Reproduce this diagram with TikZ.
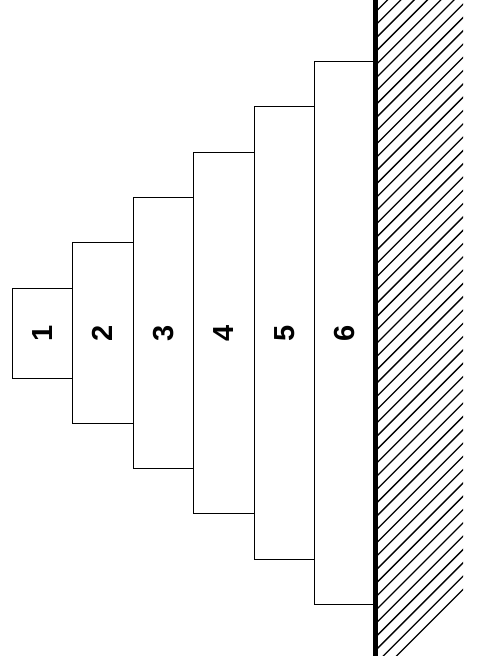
\documentclass[tikz,border=0pt]{standalone}
\usepackage{fontspec}
\setmainfont{Liberation Sans}
\tikzset{
  disk/.style={draw=black,line width=0.9pt,fill=white,rotate=90,inner sep=0pt,
    font=\fontsize{29}{34}\selectfont\bfseries},
  hatchline/.style={line width=1.3pt}
}
\begin{document}
\begin{tikzpicture}[x=1pt,y=1pt]
\useasboundingbox (0,0) rectangle (480,663);
% stacked disks, 1 on top of 6
\foreach \i in {1,...,6}
  \node [disk,minimum height=60.5pt,minimum width={90pt+(\i-1)*90.6pt}]
    (d\i) at ({42.25+(\i-1)*60.5},330) {\i};
% ground
\begin{scope}
\clip (377.5,7) rectangle (463,663);
\foreach \k in {-8,...,50}
  \draw [hatchline] (377.5,{653-13.3*\k}) -- ++(110,110);
\end{scope}
\draw [line width=4.5pt] (375.5,7) -- (375.5,663);
\end{tikzpicture}
\end{document}
